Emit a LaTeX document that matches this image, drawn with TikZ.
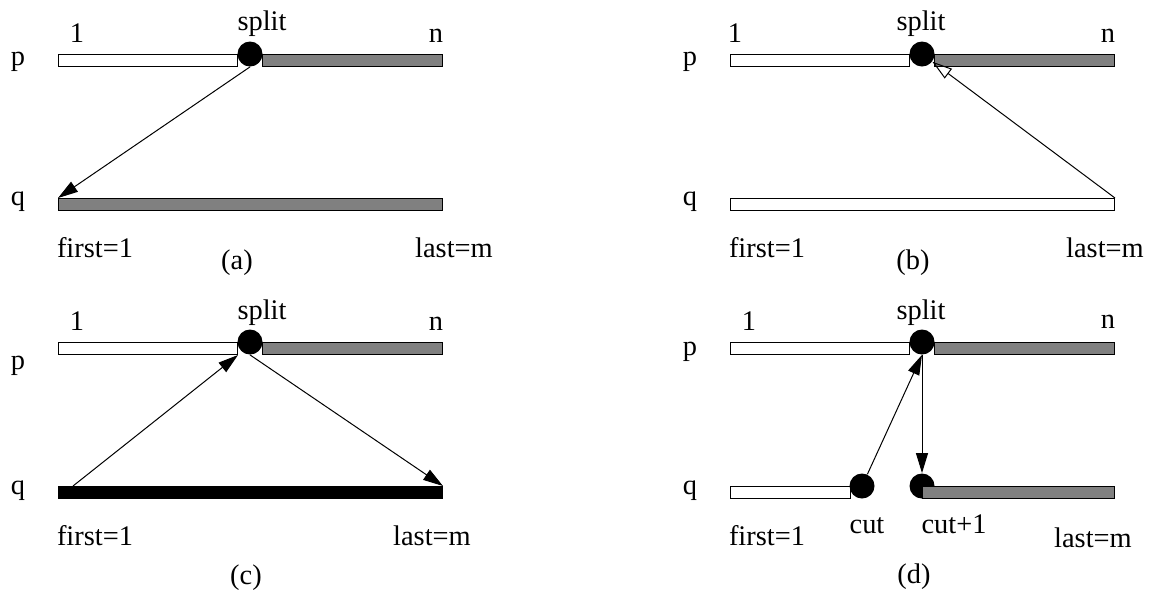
\documentclass[tikz,border=0pt]{standalone}
\usepackage{fontspec}
\setmainfont{Liberation Serif}
\usepackage{tikz}
\usetikzlibrary{shapes,calc,positioning,arrows.meta}

\begin{document}
\begin{tikzpicture}[
        x=0.5pt, y=-0.5pt,
        bar/.style={draw, line width=0.5pt, inner sep=0pt, minimum height=6pt, anchor=north west},
        whitebar/.style={bar, fill=white},
        graybar/.style={bar, fill=gray},
        blackbar/.style={bar, fill=black},
        dot/.style={circle, fill=black, inner sep=0pt, minimum size=12.5pt},
        lbl/.style={anchor=base, inner sep=0pt, font=\fontsize{14.2}{17}\selectfont},
        conn/.style={-{Triangle[length=10pt, width=6pt]}, line width=0.5pt},
        openconn/.style={-{Triangle[open, length=10pt, width=6pt]}, line width=0.5pt},
    ]
        \useasboundingbox (0,0) rectangle (1151,591);

        % Panel (a):
        \node[whitebar, minimum width=89.5pt] (pwa) at (58,54) {};
        \node[graybar, minimum width=90pt] (pga) at (262,54) {};
        \node[graybar, minimum width=192pt] (qa) at (58,198) {};
        \node[dot] (sa) at (250,54) {};
        \node[lbl] (pa) at (18,65) {p};
        \node[lbl] (qla) at (18,205) {q};
        \node[lbl] (onea) at (77,42) {1};
        \node[lbl] (spla) at (262,30) {split};
        \node[lbl] (na) at (436,42) {n};
        \node[lbl] (fa) at (95,257) {first=1};
        \node[lbl] (la) at (454,257) {last=m};
        \node[lbl] (capa) at (237,269) {(a)};
        \draw[conn] (sa.south) -- (qa.north west);

        % Panel (b):
        \node[whitebar, minimum width=89.5pt] (pwb) at (730,54) {};
        \node[graybar, minimum width=90pt] (pgb) at (934,54) {};
        \node[whitebar, minimum width=192pt] (qb) at (730,198) {};
        \node[dot] (sb) at (922,54) {};
        \node[lbl] (pb) at (690,65) {p};
        \node[lbl] (qlb) at (690,205) {q};
        \node[lbl] (oneb) at (735,42) {1};
        \node[lbl] (splb) at (921,30) {split};
        \node[lbl] (nb) at (1108,42) {n};
        \node[lbl] (fb) at (767,257) {first=1};
        \node[lbl] (lb) at (1105,257) {last=m};
        \node[lbl] (capb) at (913,269) {(b)};
        \draw[openconn] (qb.north east) -- (sb);

        % Panel (c):
        \node[whitebar, minimum width=89.5pt] (pwc) at (58,342) {};
        \node[graybar, minimum width=90pt] (pgc) at (262,342) {};
        \node[blackbar, minimum width=192pt] (qc) at (58,486) {};
        \node[dot] (sc) at (250,342) {};
        \coordinate (qc0) at (73,486);
        \node[lbl] (pc) at (18,369) {p};
        \node[lbl] (qlc) at (18,494) {q};
        \node[lbl] (onec) at (77,330) {1};
        \node[lbl] (splc) at (262,319) {split};
        \node[lbl] (nc) at (436,330) {n};
        \node[lbl] (fc) at (95,545) {first=1};
        \node[lbl] (lc) at (432,545) {last=m};
        \node[lbl] (capc) at (246,584) {(c)};
        \draw[conn] (qc0) -- (pwc.south east);
        \draw[conn] (sc.south) -- (qc.north east);

        % Panel (d):
        \node[whitebar, minimum width=89.5pt] (pwd) at (730,342) {};
        \node[graybar, minimum width=90pt] (pgd) at (934,342) {};
        \node[whitebar, minimum width=60pt] (qwd) at (730,486) {};
        \node[dot] (sd) at (922,342) {};
        \node[dot] (cutd) at (862,486) {};
        \node[dot] (cutpd) at (922,486) {};
        \node[graybar, minimum width=96pt] (qgd) at (922,486) {};
        \node[lbl] (pd) at (690,355) {p};
        \node[lbl] (qld) at (690,494) {q};
        \node[lbl] (oned) at (749,330) {1};
        \node[lbl] (spld) at (921,319) {split};
        \node[lbl] (nd) at (1108,328) {n};
        \node[lbl] (fd) at (767,545) {first=1};
        \node[lbl] (cutl) at (867,533) {cut};
        \node[lbl] (cutpl) at (954,533) {cut+1};
        \node[lbl] (ld) at (1093,547) {last=m};
        \node[lbl] (capd) at (914,583) {(d)};
        \draw[conn] (cutd) -- (sd.south);
        \draw[conn] (sd.south) -- (cutpd.north);

    \end{tikzpicture}
\end{document}
